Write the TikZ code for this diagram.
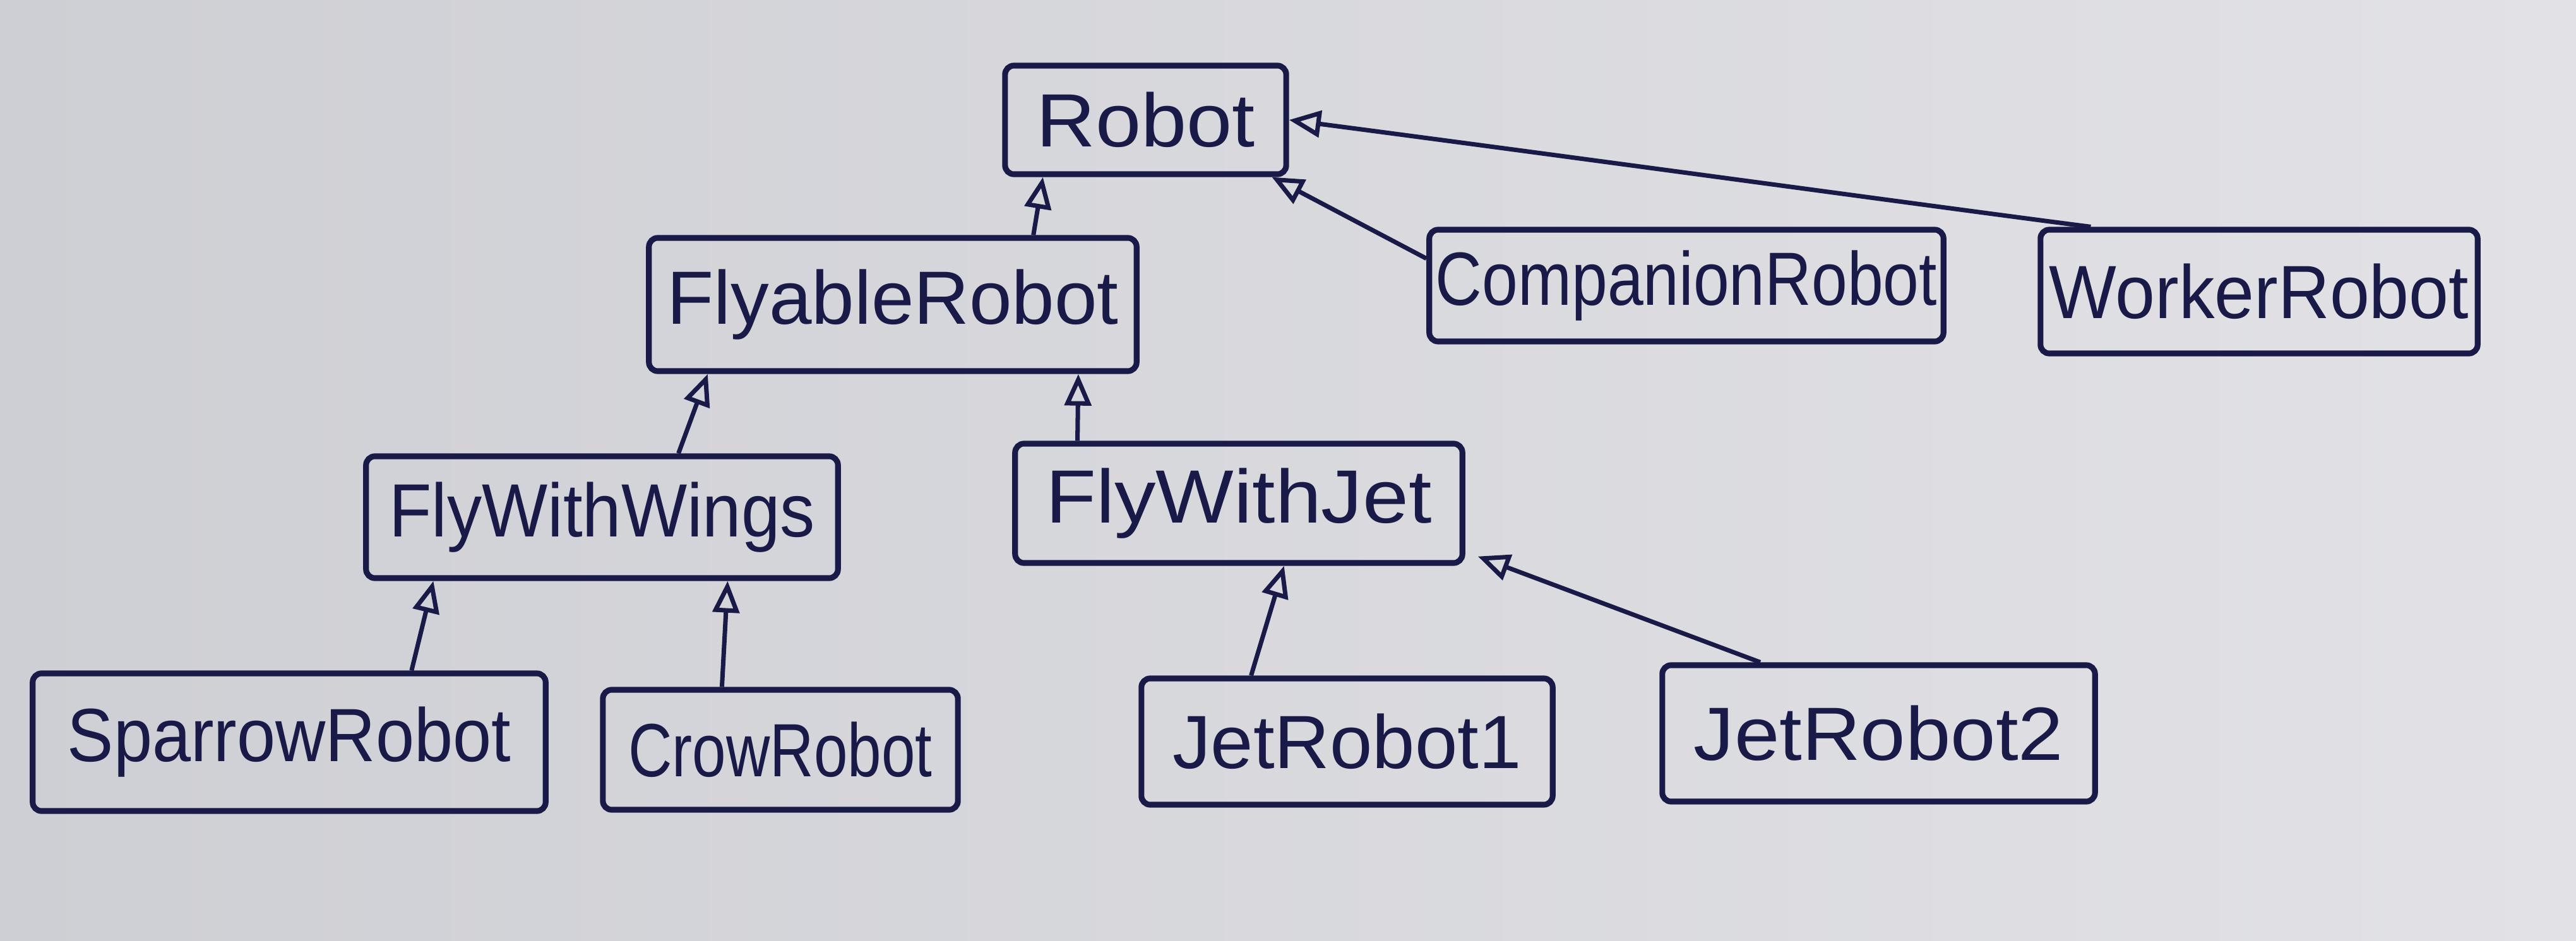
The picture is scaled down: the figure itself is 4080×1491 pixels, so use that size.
\documentclass[tikz,border=0pt]{standalone}
\usepackage{fontspec}
\setmainfont{Liberation Sans}
\usetikzlibrary{arrows.meta,calc}
\definecolor{paperL}{RGB}{206,207,212}
\definecolor{paperR}{RGB}{226,226,230}
\definecolor{ink}{RGB}{26,26,72}
\newcommand{\fitw}[2]{\resizebox{#1}{\height}{#2}}
\tikzset{
  cls/.style={draw=ink, line width=2.6pt, rounded corners=4pt, inner sep=0pt,
    text=ink, font=\fontsize{34}{40}\selectfont},
  gen/.style={draw=ink, line width=2pt,
    -{Triangle[open, length=0.5cm, width=0.42cm, line width=2pt]}}
}
\begin{document}
\begin{tikzpicture}[x=0.01cm,y=-0.01cm]
\shade[left color=paperL, right color=paperR] (0,0) rectangle (4080,1491);
\useasboundingbox (0,0) rectangle (4080,1491);

\node[cls, minimum width=4.45cm, minimum height=1.72cm] (robot) at (1814.5,190) {\fitw{3.46cm}{Robot}};
\node[cls, minimum width=7.72cm, minimum height=2.11cm] (flyable) at (1414,482.5) {\fitw{7.15cm}{FlyableRobot}};
\node[cls, minimum width=8.14cm, minimum height=1.77cm] (companion) at (2671,452.5) {\fitw{7.94cm}{CompanionRobot}};
\node[cls, minimum width=6.92cm, minimum height=1.96cm] (worker) at (3578,462) {\fitw{6.64cm}{WorkerRobot}};
\node[cls, minimum width=7.47cm, minimum height=1.93cm] (wings) at (953.5,819.5) {\fitw{6.74cm}{FlyWithWings}};
\node[cls, minimum width=7.08cm, minimum height=1.89cm] (jet) at (1962,797.5) {\fitw{6.11cm}{FlyWithJet}};
\node[cls, minimum width=8.12cm, minimum height=2.18cm] (sparrow) at (458,1176) {\fitw{7.02cm}{SparrowRobot}};
\node[cls, minimum width=5.62cm, minimum height=1.90cm] (crow) at (1236,1188) {\fitw{4.81cm}{CrowRobot}};
\node[cls, minimum width=6.51cm, minimum height=2.00cm] (jet1) at (2133.5,1175) {\fitw{5.52cm}{JetRobot1}};
\node[cls, minimum width=6.85cm, minimum height=2.16cm] (jet2) at (2975.5,1162) {\fitw{5.85cm}{JetRobot2}};

\draw[gen] ($(flyable.north west)!0.785!(flyable.north east)$) -- ($(robot.south west)!0.142!(robot.south east)$);
\draw[gen] ($(companion.north west)!0.27!(companion.south west)$) -- ($(robot.south west)!0.94!(robot.south east)$);
\draw[gen] ($(worker.north west)!0.12!(worker.north east)$) .. controls (3120,335) and (2500,250) .. (robot.east);
\draw[gen] ($(wings.north west)!0.66!(wings.north east)$) -- ($(flyable.south west)!0.125!(flyable.south east)$);
\draw[gen] ($(jet.north west)!0.144!(jet.north east)$) -- ($(flyable.south west)!0.876!(flyable.south east)$);
\draw[gen] ($(sparrow.north west)!0.736!(sparrow.north east)$) -- ($(wings.south west)!0.147!(wings.south east)$);
\draw[gen] ($(crow.north west)!0.338!(crow.north east)$) -- ($(wings.south west)!0.763!(wings.south east)$);
\draw[gen] ($(jet1.north west)!0.27!(jet1.north east)$) -- ($(jet.south west)!0.60!(jet.south east)$);
\draw[gen] ($(jet2.north west)!0.23!(jet2.north east)$) -- ([xshift=0.2cm,yshift=0.15cm]jet.south east);
\end{tikzpicture}
\end{document}
